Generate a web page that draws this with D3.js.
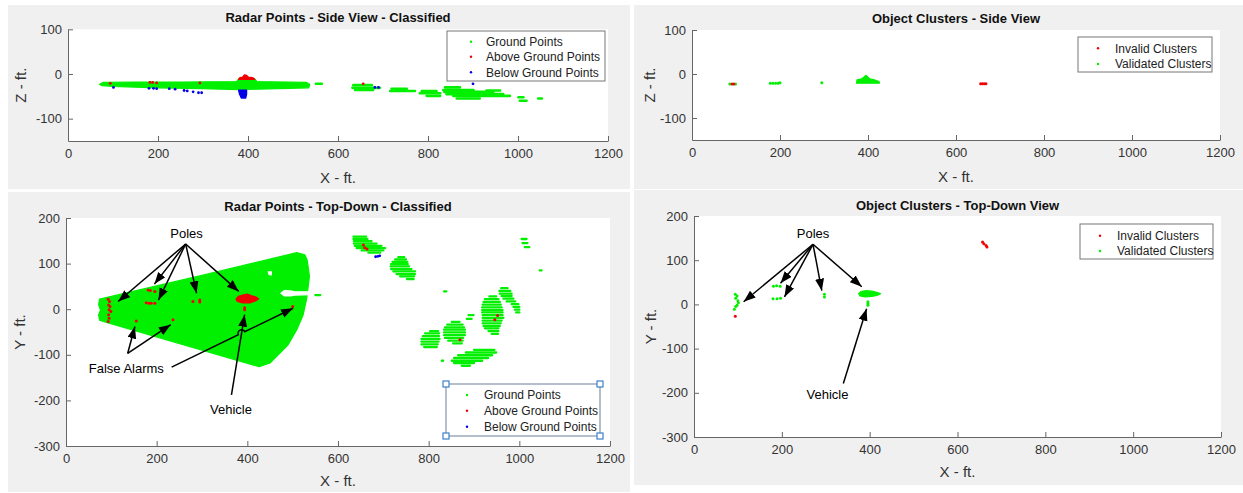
<!DOCTYPE html>
<html>
<head>
<meta charset="utf-8">
<script src="https://cdn.jsdelivr.net/npm/d3@7"></script>
<style>
  body { margin: 0; background: #fff; }
  svg { display: block; font-family: "Liberation Sans", Arial, Helvetica, sans-serif; }
</style>
</head>
<body>
<svg id="svg" width="1243" height="493"></svg>
<script>
// ---- ticks / labels ----
const xTicks = [0, 200, 400, 600, 800, 1000, 1200];
const sideTicks = [-100, 0, 100];
const topTicks = [-300, -200, -100, 0, 100, 200];
const radarLegend = ["Ground Points", "Above Ground Points", "Below Ground Points"];
const clusterLegend = ["Invalid Clusters", "Validated Clusters"];

// ---- radar points, side view (x ft, z ft) ----
const sideGroundArea = [[70,-23],[78,-19],[150,-18],[250,-18],[375,-17],[379,-11],[415,-11],[420,-17],[530,-19],[537,-23],[535,-31],[420,-34],[380,-35],[300,-33],[200,-31],[100,-28],[75,-26]];
// [xStart, xEnd, z]
const sideGroundStripes = [[551,564,-22],[634,675,-25],[632,693,-31],[638,678,-36],[719,753,-33],[716,771,-38],[786,819,-38],[782,827,-43],[797,827,-49],[838,871,-30],[834,901,-36],[836,945,-40],[841,967,-45],[856,982,-49],[864,915,-55],[930,960,-37],[1001,1012,-52],[1004,1019,-60],[1045,1053,-55]];
const sideAboveArea = [[379,-12],[382,-8],[388,-7],[392,-2],[397,-3],[401,-7],[410,-8],[415,-12]];
const sideAbovePoints = [[94,-21],[182,-19],[188,-19],[197,-20],[293,-20],[656,-22]];
const sideBelowArea = [[379,-36],[397,-36],[397,-45],[395,-54],[385,-54],[381,-45]];
const sideBelowPoints = [[101,-30],[180,-32],[190,-32],[197,-33],[225,-33],[238,-34],[258,-37],[265,-38],[278,-40],[290,-42],[297,-42],[682,-30],[690,-30],[900,-22]];

// ---- radar points, top-down (x ft, y ft) ----
const topGroundArea = [[74,22],[300,74],[509,124],[527,119],[532,108],[537,72],[531,24],[523,-13],[509,-45],[490,-78],[479,-89],[450,-118],[426,-126],[82,-27],[74,-24],[72,-12],[76,-2],[72,10]];
const topGroundGaps = [
  [[474,35],[482,41],[495,40],[505,38],[540,38],[540,32],[505,31],[495,29],[482,29]],
  [[446,82],[453,82],[453,75],[448,76]]
];
const topGroundStripes = [
  [634,662,159],[634,665,154],[635,674,149],[635,685,144],[637,696,139],[641,704,134],[652,700,129],[667,693,124],
  [733,746,114],[726,750,109],[720,753,104],[717,754,99],[716,757,94],[717,762,88],[722,770,83],[729,770,77],[737,768,72],[752,767,66],
  [834,839,39],[1005,1016,154],[1007,1018,145],[1012,1022,136],[1045,1049,85],
  [960,974,46],[956,980,40],[957,983,34],[961,983,29],[965,987,23],[972,991,17],[983,998,11],[987,1000,5],[990,1000,-1],[993,1000,-7],
  [934,949,28],[924,954,22],[921,957,16],[919,959,10],[918,961,4],[918,963,-2],[918,963,-7],[919,963,-13],[919,965,-19],[919,961,-25],[919,959,-31],[921,957,-37],[924,954,-42],[932,954,-48],[939,953,-54],
  [888,899,-13],[884,895,-21],
  [851,868,-28],[841,875,-34],[836,878,-40],[834,880,-45],[834,880,-51],[834,880,-57],[836,876,-63],[843,875,-69],[854,873,-75],
  [803,821,-48],[792,823,-53],[787,823,-59],[784,824,-65],[784,822,-71],[784,820,-77],[790,818,-83],
  [900,945,-89],[882,949,-95],[865,940,-101],[856,931,-107],[851,918,-113],[856,900,-118],[873,891,-124],
  [829,832,-113],[550,561,31]
];
const topAboveArea = [[375,22],[380,28],[390,31],[400,33],[408,30],[418,27],[425,23],[418,18],[405,14],[390,14],[378,17]];
const topAbovePoints = [[93,22],[96,17],[94,9],[97,6],[95,-1],[99,-5],[94,-12],[95,-20],[93,-27],[181,42],[186,41],[196,39],[177,14],[183,13],[188,13],[196,13],[280,17],[295,20],[295,16],[394,3],[394,-1],[155,-26],[236,-23],[500,6],[656,141],[659,135],[664,132],[869,-67],[952,-14],[946,-23]];
const topBelowPoints = [[683,115],[688,116],[692,117]];

// ---- object clusters, side view ----
const clusterSideValid = [[86,-23],[99,-23],[178,-21],[184,-21],[190,-21],[196,-21],[200,-20],[295,-20]];
const clusterSideValidArea = [[374,-21],[375,-13],[386,-11],[391,-7],[395,-3],[399,-6],[404,-11],[414,-13],[425,-17],[426,-21]];
const clusterSideInvalid = [[91,-23],[95,-23],[656,-22],[660,-22],[664,-22],[668,-22]];

// ---- object clusters, top-down ----
const clusterTopValid = [[94,23],[98,19],[95,14],[100,8],[101,4],[98,-2],[95,-5],[92,-11],[181,41],[188,42],[196,41],[180,13],[189,13],[197,14],[297,23],[297,17],[396,6],[396,2],[396,-2]];
const clusterTopValidArea = [[375,24],[380,29],[392,31],[405,30],[418,27],[425,24],[418,21],[405,18],[390,17],[378,19]];
const clusterTopInvalid = [[94,-27],[657,141],[660,137],[665,133],[667,130]];

// ---- annotations (data units) ----
const radarPoles = { label: "Poles", at: [266,167], from: [264,143], to: [[115,17],[195,55],[204,20],[288,35],[381,39]] };
const radarFalse = { label: "False Alarms", at: [133,-129], from: [136,-97], to: [[152,-38],[231,-34]] };
const radarFalseLong = [[233,-127],[501,2]];
const radarVehicle = { label: "Vehicle", at: [364,-219], from: [365,-188], to: [[394,-12]] };
const clusterPoles = { label: "Poles", at: [271,161], from: [271,136], to: [[113,6],[197,48],[206,17],[291,31],[382,40]] };
const clusterVehicle = { label: "Vehicle", at: [304,-203], from: [340,-179], to: [[393,-10]] };

const GREEN = "#00f000", RED = "#f00000", BLUE = "#0000e6";

const svg = d3.select("#svg");
svg.append("rect").attr("width", 1243).attr("height", 493).attr("fill", "#fff");

svg.append("defs").append("marker")
  .attr("id", "arrow").attr("markerUnits", "userSpaceOnUse")
  .attr("markerWidth", 13).attr("markerHeight", 10)
  .attr("refX", 12).attr("refY", 4.5).attr("orient", "auto")
  .append("path").attr("d", "M0,0 L12,4.5 L0,9 Z").attr("fill", "#000");

function panel(p) {
  const g = svg.append("g");
  g.append("rect").attr("x", p.bg[0]).attr("y", p.bg[1]).attr("width", p.bg[2]).attr("height", p.bg[3]).attr("fill", "#f0f0f0");
  const x = d3.scaleLinear().domain([0, 1200]).range(p.xr);
  const y = d3.scaleLinear().domain(p.yd).range(p.yr);
  g.append("rect").attr("x", p.xr[0]).attr("y", p.yr[1])
    .attr("width", p.xr[1] - p.xr[0]).attr("height", p.yr[0] - p.yr[1]).attr("fill", "#fff");

  const xa = g.append("g").attr("transform", `translate(0,${p.yr[0]})`)
    .call(d3.axisBottom(x).tickValues(xTicks).tickSizeInner(-5).tickSizeOuter(0).tickPadding(8).tickFormat(d => String(d)));
  const ya = g.append("g").attr("transform", `translate(${p.xr[0]},0)`)
    .call(d3.axisLeft(y).tickValues(p.ticks).tickSizeInner(-5).tickSizeOuter(0).tickPadding(6).tickFormat(d => String(d)));
  [xa, ya].forEach(a => {
    a.select(".domain").attr("stroke", "#666");
    a.selectAll(".tick line").attr("stroke", "#666");
    a.selectAll(".tick text").attr("fill", "#333").style("font-size", "13px").style("font-family", "inherit");
  });

  const mid = (p.xr[0] + p.xr[1]) / 2;
  g.append("text").attr("x", mid).attr("y", p.titleY).attr("text-anchor", "middle")
    .style("font-size", "13px").style("font-weight", "bold").attr("fill", "#111").text(p.title);
  g.append("text").attr("x", mid).attr("y", p.xlabY).attr("text-anchor", "middle")
    .style("font-size", "15px").attr("fill", "#333").text("X - ft.");
  g.append("text").attr("transform", `translate(${p.ylabX},${(p.yr[0] + p.yr[1]) / 2}) rotate(-90)`)
    .attr("text-anchor", "middle").attr("dy", "0.35em")
    .style("font-size", "15px").attr("fill", "#333").text(p.ylab);
  return { g, x, y };
}

function area(c, pts, color) {
  c.g.append("path").attr("d", d3.line().x(d => c.x(d[0])).y(d => c.y(d[1]))(pts) + "Z")
    .attr("fill", color).attr("stroke", color).attr("stroke-width", 1.2).attr("stroke-linejoin", "round");
}
function stripes(c, rows, color, w) {
  c.g.append("g").selectAll("line").data(rows).join("line")
    .attr("x1", d => c.x(d[0])).attr("x2", d => c.x(d[1]))
    .attr("y1", d => c.y(d[2])).attr("y2", d => c.y(d[2]))
    .attr("stroke", color).attr("stroke-width", w).attr("stroke-linecap", "round");
}
function dots(c, pts, color, r) {
  c.g.append("g").selectAll("circle").data(pts).join("circle")
    .attr("cx", d => c.x(d[0])).attr("cy", d => c.y(d[1])).attr("r", r).attr("fill", color);
}
function legend(c, l, labels, colors, handles) {
  c.g.append("rect").attr("x", l.box[0]).attr("y", l.box[1]).attr("width", l.box[2]).attr("height", l.box[3])
    .attr("fill", "#fff").attr("stroke", handles ? "#6b7f99" : "#777").attr("stroke-width", 1);
  labels.forEach((t, i) => {
    c.g.append("circle").attr("cx", l.mx).attr("cy", l.ys[i]).attr("r", 1.2).attr("fill", colors[i]);
    c.g.append("text").attr("x", l.tx).attr("y", l.ys[i]).attr("dy", "0.35em")
      .style("font-size", "12px").attr("fill", "#222").text(t);
  });
  if (handles) {
    const [bx, by, bw, bh] = l.box;
    [[bx, by], [bx + bw, by], [bx, by + bh], [bx + bw, by + bh]].forEach(([hx, hy]) => {
      c.g.append("rect").attr("x", hx - 3).attr("y", hy - 3).attr("width", 6).attr("height", 6)
        .attr("fill", "#fff").attr("stroke", "#3f7fc8").attr("stroke-width", 1.2);
    });
  }
}
function annotate(c, a) {
  c.g.append("text").attr("x", c.x(a.at[0])).attr("y", c.y(a.at[1])).attr("dy", "0.35em")
    .attr("text-anchor", "middle").style("font-size", "13px").attr("fill", "#000").text(a.label);
  a.to.forEach(t => {
    c.g.append("line").attr("x1", c.x(a.from[0])).attr("y1", c.y(a.from[1]))
      .attr("x2", c.x(t[0])).attr("y2", c.y(t[1]))
      .attr("stroke", "#000").attr("stroke-width", 1.5).attr("marker-end", "url(#arrow)");
  });
}

// ---------- top-left: radar side view ----------
const p1 = panel({ bg: [8, 5, 622, 184], xr: [68, 608], yd: [-150, 100], yr: [141, 29.3], ticks: sideTicks,
  title: "Radar Points - Side View - Classified", titleY: 21.5, xlabY: 183, ylabX: 21, ylab: "Z - ft." });
area(p1, sideGroundArea, GREEN);
stripes(p1, sideGroundStripes, GREEN, 2.6);
area(p1, sideAboveArea, RED);
dots(p1, sideAbovePoints, RED, 1.4);
area(p1, sideBelowArea, BLUE);
dots(p1, sideBelowPoints, BLUE, 1.4);
legend(p1, { box: [447, 31, 158, 50], mx: 471, tx: 486, ys: [41.7, 56.7, 72.3] }, radarLegend, [GREEN, RED, BLUE], false);

// ---------- top-right: clusters side view ----------
const p2 = panel({ bg: [634, 5, 609, 184], xr: [692, 1220], yd: [-150, 100], yr: [140, 30], ticks: sideTicks,
  title: "Object Clusters - Side View", titleY: 22.5, xlabY: 182, ylabX: 650, ylab: "Z - ft." });
dots(p2, clusterSideValid, GREEN, 1.5);
area(p2, clusterSideValidArea, GREEN);
dots(p2, clusterSideInvalid, RED, 1.5);
legend(p2, { box: [1078, 37, 134, 35], mx: 1098, tx: 1115, ys: [48.3, 64] }, clusterLegend, [RED, GREEN], false);

// ---------- bottom-left: radar top-down ----------
const p3 = panel({ bg: [8, 192, 622, 300], xr: [66, 610], yd: [-300, 200], yr: [446, 218], ticks: topTicks,
  title: "Radar Points - Top-Down - Classified", titleY: 210.5, xlabY: 486, ylabX: 20, ylab: "Y - ft." });
area(p3, topGroundArea, GREEN);
topGroundGaps.forEach(gp => area(p3, gp, "#fff"));
stripes(p3, topGroundStripes, GREEN, 2.3);
area(p3, topAboveArea, RED);
dots(p3, topAbovePoints, RED, 1.5);
dots(p3, topBelowPoints, BLUE, 1.4);
annotate(p3, radarPoles);
annotate(p3, radarFalse);
annotate(p3, radarVehicle);
// long false-alarm arrow, hopping over the vehicle arrow
{
  const s = [p3.x(radarFalseLong[0][0]), p3.y(radarFalseLong[0][1])];
  const e = [p3.x(radarFalseLong[1][0]), p3.y(radarFalseLong[1][1])];
  const v0 = [p3.x(radarVehicle.from[0]), p3.y(radarVehicle.from[1])];
  const v1 = [p3.x(radarVehicle.to[0][0]), p3.y(radarVehicle.to[0][1])];
  const d1 = [e[0] - s[0], e[1] - s[1]], d2 = [v1[0] - v0[0], v1[1] - v0[1]];
  const den = d1[0] * d2[1] - d1[1] * d2[0];
  const t = ((v0[0] - s[0]) * d2[1] - (v0[1] - s[1]) * d2[0]) / den;
  const len = Math.hypot(d1[0], d1[1]), ux = d1[0] / len, uy = d1[1] / len, r = 3.5;
  const cx = s[0] + d1[0] * t, cy = s[1] + d1[1] * t;
  const d = `M${s[0]},${s[1]} L${cx - ux * r},${cy - uy * r} A${r},${r} 0 0 1 ${cx + ux * r},${cy + uy * r} L${e[0]},${e[1]}`;
  p3.g.append("path").attr("d", d).attr("fill", "none").attr("stroke", "#000").attr("stroke-width", 1.5)
    .attr("marker-end", "url(#arrow)");
}
legend(p3, { box: [446, 384, 154, 52], mx: 467, tx: 484, ys: [395, 410.7, 426.7] }, radarLegend, [GREEN, RED, BLUE], true);

// ---------- bottom-right: clusters top-down ----------
const p4 = panel({ bg: [634, 190, 609, 295], xr: [694, 1221], yd: [-300, 200], yr: [437, 216], ticks: topTicks,
  title: "Object Clusters - Top-Down View", titleY: 209.5, xlabY: 477, ylabX: 651, ylab: "Y - ft." });
dots(p4, clusterTopValid, GREEN, 1.5);
area(p4, clusterTopValidArea, GREEN);
dots(p4, clusterTopInvalid, RED, 1.5);
annotate(p4, clusterPoles);
annotate(p4, clusterVehicle);
legend(p4, { box: [1080, 224, 133, 35], mx: 1100, tx: 1117, ys: [235.7, 251] }, clusterLegend, [RED, GREEN], false);
</script>
</body>
</html>
